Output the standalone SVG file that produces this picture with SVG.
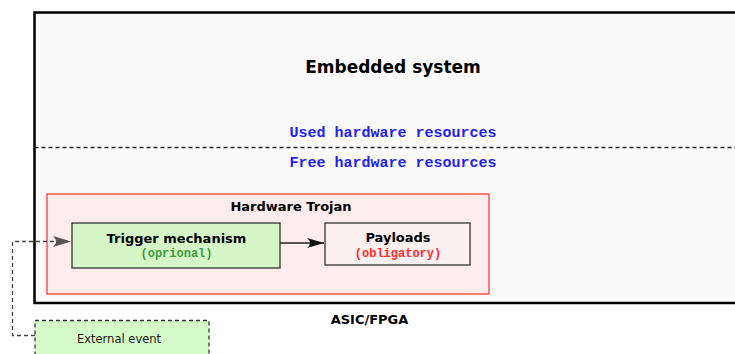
<svg xmlns="http://www.w3.org/2000/svg" width="735" height="354" viewBox="0 0 735 354">
  <style>
    .title { font-family: "DejaVu Sans", sans-serif; font-weight: bold; fill: #000; text-anchor: middle; }
    .mono { font-family: "Liberation Mono", "Courier New", monospace; font-weight: bold; text-anchor: middle; }
    .plain { font-family: "DejaVu Sans", sans-serif; fill: #1a1a1a; text-anchor: middle; }
    .box { stroke: #333; stroke-width: 1.3; }
  </style>
  <defs>
    <marker id="arrow-dark" viewBox="-18 -6 20 12" markerWidth="20" markerHeight="12" refX="0" refY="0" orient="auto" markerUnits="userSpaceOnUse">
      <path d="M0,0 L-17,-5 Q-11,0 -17,5 Z" fill="#111"/>
    </marker>
    <marker id="arrow-grey" viewBox="-20 -7 22 14" markerWidth="22" markerHeight="14" refX="0" refY="0" orient="auto" markerUnits="userSpaceOnUse">
      <path d="M0,0 L-18,-5.5 Q-12,0 -18,5.5 Z" fill="#5a5252"/>
    </marker>
  </defs>

  <rect width="735" height="354" fill="#ffffff"/>

  <!-- Embedded system / ASIC-FPGA outline -->
  <g id="embedded-system">
    <rect x="34.5" y="12.5" width="720" height="290.5" fill="#fafafa" stroke="#000" stroke-width="2.5"/>
    <text class="title" x="393" y="73" font-size="17">Embedded system</text>
    <line x1="34.5" y1="147.5" x2="735" y2="147.5" stroke="#222" stroke-width="1.3" stroke-dasharray="4,3"/>
    <text class="mono" x="393" y="137" font-size="15" fill="#1e1ef5">Used hardware resources</text>
    <text class="mono" x="393" y="167" font-size="15" fill="#1e1ef5">Free hardware resources</text>
    <text class="title" x="369.5" y="324" font-size="13">ASIC/FPGA</text>
  </g>

  <!-- Trojan container -->
  <g id="hardware-trojan">
    <rect x="47" y="194" width="442" height="100" fill="#fdecec" stroke="#ff3a3a" stroke-width="1.3"/>
    <text class="title" x="291" y="211" font-size="13">Hardware Trojan</text>
  </g>

  <g id="trigger-mechanism">
    <rect class="box" x="72" y="223" width="208" height="45" fill="#d5f7c8"/>
    <text class="title" x="176.5" y="243" font-size="13">Trigger mechanism</text>
    <text class="mono" x="176.5" y="256.5" font-size="12" fill="#3f9a3f">(oprional)</text>
  </g>

  <g id="payloads">
    <rect class="box" x="325" y="223" width="145" height="42" fill="#fdf0f0"/>
    <text class="title" x="398" y="242" font-size="13">Payloads</text>
    <text class="mono" x="398" y="256.5" font-size="12" fill="#ff2b2b">(obligatory)</text>
  </g>

  <g id="external-event">
    <rect x="35" y="320.5" width="174" height="50" fill="#d5fcc8" stroke="#333" stroke-width="1.3" stroke-dasharray="4,3"/>
    <text class="plain" x="119" y="343" font-size="11.5">External event</text>
  </g>

  <!-- Connectors -->
  <g id="connectors" fill="none">
    <path d="M280,243 L324,243" stroke="#222" stroke-width="1.3" marker-end="url(#arrow-dark)"/>
    <path d="M35,335.5 L12.5,335.5 L12.5,241.5 L71,241.5" stroke="#444" stroke-width="1.3" stroke-dasharray="4,3" marker-end="url(#arrow-grey)"/>
  </g>
</svg>
